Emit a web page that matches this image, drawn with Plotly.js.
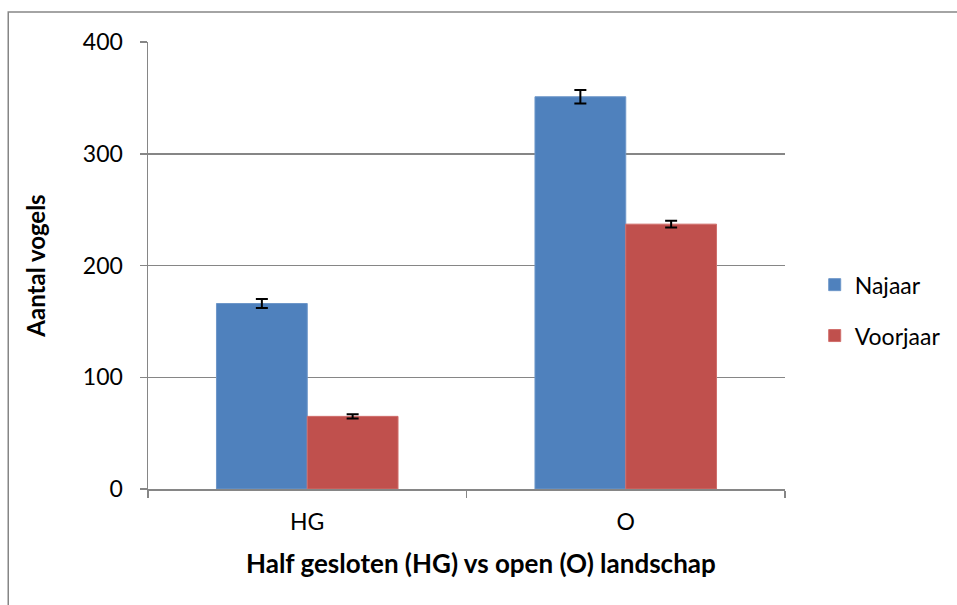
<!DOCTYPE html>
<html>
<head>
<meta charset="utf-8">
<script src="https://cdn.plot.ly/plotly-3.0.1.min.js"></script>
<style>html,body{margin:0;padding:0;background:#fff}#chart{width:957px;height:605px}</style>
</head>
<body>
<div id="chart"></div>
<script>
const categories = ["HG", "O"];
const seriesNames = ["Najaar", "Voorjaar"];
const najaar = [166, 351];
const najaarErr = [4, 6];
const voorjaar = [65, 237];
const voorjaarErr = [2, 3];
const yTicks = [0, 100, 200, 300, 400];
const xTitle = "Half gesloten (HG) vs open (O) landschap";
const yTitle = "Aantal vogels";

const fontFam = "Lato, 'Open Sans', sans-serif";
const traces = [
  {type: "bar", name: seriesNames[0], x: categories, y: najaar, legendgroup: "a",
   marker: {color: "#4F81BD", line: {color: "#6E97C9", width: 1}},
   error_y: {type: "data", array: najaarErr, visible: true, color: "#000", thickness: 2, width: 6}},
  {type: "bar", name: seriesNames[1], x: categories, y: voorjaar, legendgroup: "b",
   marker: {color: "#C0504D", line: {color: "#D06E6B", width: 1}},
   error_y: {type: "data", array: voorjaarErr, visible: true, color: "#000", thickness: 2, width: 6}}
];
const layout = {
  width: 957, height: 605,
  margin: {l: 148, r: 171, t: 42, b: 116},
  paper_bgcolor: "#fff", plot_bgcolor: "#fff",
  font: {family: fontFam, color: "#000", size: 23},
  barmode: "group", bargap: 0.43, bargroupgap: 0,
  showlegend: true,
  legend: {x: 1.045, y: 0.40, yanchor: "middle", xanchor: "left", font: {size: 23}, itemwidth: 30, tracegroupgap: 18},
  xaxis: {type: "category", showline: true, linecolor: "#868686", linewidth: 1.5,
    ticks: "outside", tickson: "boundaries", ticklen: 7, tickcolor: "#868686", tickwidth: 1.5,
    tickfont: {size: 23}, ticklabelstandoff: 12, showgrid: false, zeroline: false},
  yaxis: {range: [0, 400], tickvals: yTicks, showline: true, linecolor: "#868686", linewidth: 1.5,
    ticks: "outside", ticklen: 7, tickcolor: "#868686", tickwidth: 1.5,
    showgrid: true, gridcolor: "#868686", gridwidth: 1.5, zeroline: false,
    tickfont: {size: 23}, ticklabelstandoff: 12,
    title: {text: "<b>" + yTitle + "</b>", font: {size: 24}, standoff: 30}},
  annotations: [
    {text: "<b>" + xTitle + "</b>", xref: "paper", yref: "paper", x: 0.522, y: -0.165,
     xanchor: "center", yanchor: "middle", showarrow: false, font: {size: 26}}
  ],
  shapes: [
    {type: "path", xref: "paper", yref: "paper",
     path: "M -0.2194 -0.3 L -0.2194 1.0671 L 1.3 1.0671",
     line: {color: "#868686", width: 1.5}}
  ]
};
Plotly.newPlot("chart", traces, layout, {displayModeBar: false, staticPlot: true});
</script>
</body>
</html>
